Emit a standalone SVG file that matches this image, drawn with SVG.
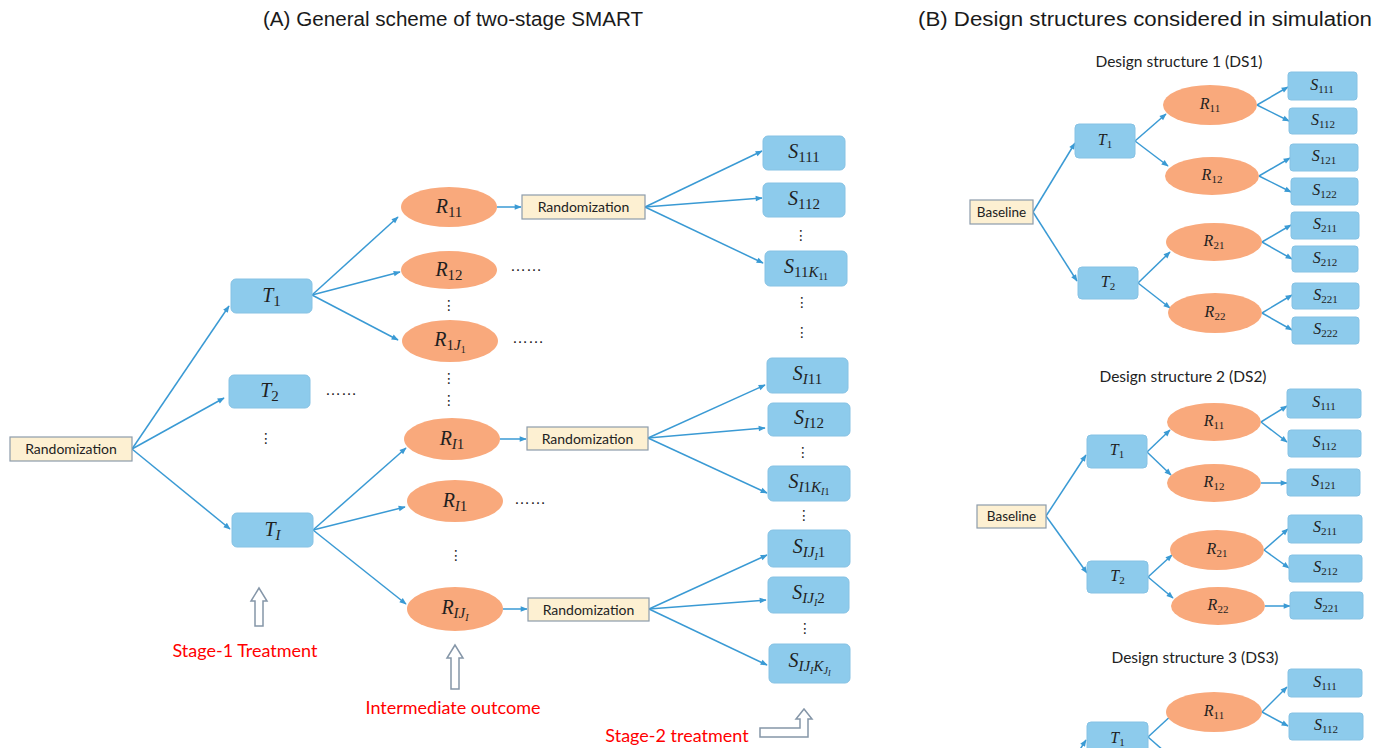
<svg xmlns="http://www.w3.org/2000/svg" width="1381" height="748" viewBox="0 0 1381 748">
<style>
.title{font-family:"Liberation Sans",Arial,sans-serif;font-size:20px;fill:#1a1a1a}
.cal{font-family:Lato,"Open Sans",sans-serif;fill:#222}
.red{font-family:Lato,"Open Sans",sans-serif;font-size:18px;fill:#ff0000}
.box{fill:#8dcbec;stroke:#86c2e4;stroke-width:1}
.ell{fill:#f9a97c}
.rnd{fill:#fdf0d2;stroke:#8d9cab;stroke-width:1.2}
.m{font-family:"Liberation Serif","DejaVu Serif",serif;font-style:italic;font-size:20px;fill:#1f1f1f;text-anchor:middle}
.ms{font-family:"Liberation Serif","DejaVu Serif",serif;font-style:italic;font-size:16px;fill:#1f1f1f;text-anchor:middle}
.n{font-style:normal}
.dots{font-family:"DejaVu Sans",sans-serif;font-size:14px;fill:#222;text-anchor:middle}
.ell3{font-family:"Liberation Sans",sans-serif;font-size:16px;fill:#222;text-anchor:middle}
.con line{stroke:#3a9ad4;stroke-width:1.5;fill:none;marker-end:url(#ah)}
.hollow{fill:#fff;stroke:#8596a8;stroke-width:1.5}
</style>
<defs>
<marker id="ah" viewBox="0 0 10 10" refX="9" refY="5" markerWidth="8" markerHeight="7" orient="auto" markerUnits="userSpaceOnUse"><path d="M0,1 L10,5 L0,9 z" fill="#3a9ad4"/></marker>
</defs>
<rect width="1381" height="748" fill="#fff"/>

<text class="title" x="263" y="26" textLength="380" lengthAdjust="spacingAndGlyphs">(A) General scheme of two-stage SMART</text>
<text class="title" x="918" y="26" textLength="454" lengthAdjust="spacingAndGlyphs">(B) Design structures considered in simulation</text>

<g class="con" id="connectors">
<line x1="132" y1="449" x2="229" y2="306"/>
<line x1="132" y1="449" x2="224" y2="398"/>
<line x1="132" y1="449" x2="230" y2="529"/>
<line x1="312" y1="295" x2="398" y2="217"/>
<line x1="312" y1="295" x2="400" y2="272"/>
<line x1="312" y1="295" x2="398" y2="340"/>
<line x1="497" y1="207" x2="521" y2="207"/>
<line x1="645" y1="207" x2="762" y2="151"/>
<line x1="645" y1="207" x2="762" y2="198"/>
<line x1="645" y1="207" x2="763" y2="263"/>
<line x1="313" y1="530" x2="406" y2="448"/>
<line x1="313" y1="530" x2="405" y2="507"/>
<line x1="313" y1="530" x2="406" y2="604"/>
<line x1="500" y1="439" x2="526" y2="439"/>
<line x1="648" y1="438" x2="765" y2="385"/>
<line x1="648" y1="438" x2="765" y2="428"/>
<line x1="648" y1="438" x2="767" y2="493"/>
<line x1="503" y1="609" x2="527" y2="609"/>
<line x1="649" y1="609" x2="767" y2="555"/>
<line x1="649" y1="609" x2="766" y2="600"/>
<line x1="649" y1="609" x2="767" y2="665"/>
<!-- DS1 -->
<line x1="1033" y1="212" x2="1075" y2="143"/>
<line x1="1033" y1="212" x2="1077" y2="281"/>
<line x1="1135" y1="141" x2="1166" y2="114"/>
<line x1="1135" y1="141" x2="1168" y2="166"/>
<line x1="1138" y1="283" x2="1170" y2="252"/>
<line x1="1138" y1="283" x2="1170" y2="308"/>
<line x1="1257" y1="105" x2="1288" y2="87"/>
<line x1="1257" y1="105" x2="1289" y2="121"/>
<line x1="1259" y1="176" x2="1290" y2="158"/>
<line x1="1259" y1="176" x2="1291" y2="192"/>
<line x1="1262" y1="242" x2="1291" y2="225"/>
<line x1="1262" y1="242" x2="1292" y2="259"/>
<line x1="1262" y1="313" x2="1292" y2="295"/>
<line x1="1262" y1="313" x2="1292" y2="330"/>
<!-- DS2 -->
<line x1="1046" y1="516" x2="1086" y2="455"/>
<line x1="1046" y1="516" x2="1087" y2="573"/>
<line x1="1147" y1="452" x2="1170" y2="430"/>
<line x1="1147" y1="452" x2="1171" y2="475"/>
<line x1="1148" y1="577" x2="1172" y2="555"/>
<line x1="1148" y1="577" x2="1173" y2="598"/>
<line x1="1261" y1="422" x2="1287" y2="406"/>
<line x1="1261" y1="422" x2="1287" y2="442"/>
<line x1="1261" y1="483" x2="1287" y2="483"/>
<line x1="1264" y1="550" x2="1288" y2="529"/>
<line x1="1264" y1="550" x2="1289" y2="568"/>
<line x1="1265" y1="606" x2="1290" y2="606"/>
<!-- DS3 -->
<line x1="1070" y1="765" x2="1086" y2="740"/>
<line x1="1148" y1="737" x2="1174" y2="713"/>
<line x1="1148" y1="737" x2="1172" y2="758"/>
<line x1="1262" y1="712" x2="1287" y2="687"/>
<line x1="1262" y1="712" x2="1288" y2="726"/>
</g>

<!-- Panel A nodes -->
<g id="rand0"><rect class="rnd" x="10" y="437" width="122" height="24"/><text class="cal" x="71" y="454" font-size="14" text-anchor="middle">Randomization</text></g>
<g id="T1"><rect class="box" x="231" y="279" width="81" height="34" rx="5"/><text class="m" x="271.5" y="302">T<tspan class="n" dy="4" font-size="15">1</tspan></text></g>
<g id="T2"><rect class="box" x="229" y="375" width="81" height="33" rx="5"/><text class="m" x="269.5" y="397">T<tspan class="n" dy="4" font-size="15">2</tspan></text></g>
<g id="TI"><rect class="box" x="232" y="513" width="81" height="34" rx="5"/><text class="m" x="272.5" y="536">T<tspan dy="4" font-size="15">I</tspan></text></g>

<g id="R11"><ellipse class="ell" cx="449" cy="207" rx="48" ry="20"/><text class="m" x="449" y="213">R<tspan class="n" dy="4" font-size="15">11</tspan></text></g>
<g id="R12"><ellipse class="ell" cx="449" cy="270" rx="48" ry="19"/><text class="m" x="449" y="276">R<tspan class="n" dy="4" font-size="15">12</tspan></text></g>
<g id="R1J1"><ellipse class="ell" cx="450" cy="341" rx="48" ry="21"/><text class="m" x="450" y="346">R<tspan class="n" dy="4" font-size="15">1</tspan><tspan font-size="15">J</tspan><tspan class="n" dy="3" font-size="10">1</tspan></text></g>
<g id="RI1a"><ellipse class="ell" cx="452" cy="439" rx="48" ry="21"/><text class="m" x="452" y="445">R<tspan dy="4" font-size="15">I</tspan><tspan class="n" font-size="15">1</tspan></text></g>
<g id="RI1b"><ellipse class="ell" cx="455" cy="501" rx="48" ry="21"/><text class="m" x="455" y="507">R<tspan dy="4" font-size="15">I</tspan><tspan class="n" font-size="15">1</tspan></text></g>
<g id="RIJI"><ellipse class="ell" cx="455" cy="609" rx="48" ry="22"/><text class="m" x="455" y="614">R<tspan dy="4" font-size="15">IJ</tspan><tspan dy="3" font-size="10">I</tspan></text></g>

<g id="rand1"><rect class="rnd" x="522" y="195" width="123" height="24"/><text class="cal" x="583.5" y="212" font-size="14" text-anchor="middle">Randomization</text></g>
<g id="rand2"><rect class="rnd" x="527" y="427" width="121" height="23"/><text class="cal" x="587.5" y="443.5" font-size="14" text-anchor="middle">Randomization</text></g>
<g id="rand3"><rect class="rnd" x="528" y="598" width="121" height="23"/><text class="cal" x="588.5" y="614.5" font-size="14" text-anchor="middle">Randomization</text></g>

<g id="S111"><rect class="box" x="763" y="136" width="82" height="34" rx="5"/><text class="m" x="804" y="158">S<tspan class="n" dy="4" font-size="15">111</tspan></text></g>
<g id="S112"><rect class="box" x="763" y="183" width="82" height="34" rx="5"/><text class="m" x="804" y="205">S<tspan class="n" dy="4" font-size="15">112</tspan></text></g>
<g id="S11K11"><rect class="box" x="765" y="251" width="82" height="35" rx="5"/><text class="m" x="806" y="273">S<tspan class="n" dy="4" font-size="15">11</tspan><tspan font-size="15">K</tspan><tspan class="n" dy="3" font-size="10">11</tspan></text></g>
<g id="SI11"><rect class="box" x="767" y="358" width="81" height="35" rx="5"/><text class="m" x="807.5" y="380">S<tspan dy="4" font-size="15">I</tspan><tspan class="n" font-size="15">11</tspan></text></g>
<g id="SI12"><rect class="box" x="768" y="403" width="82" height="33" rx="5"/><text class="m" x="809" y="424">S<tspan dy="4" font-size="15">I</tspan><tspan class="n" font-size="15">12</tspan></text></g>
<g id="SI1KI1"><rect class="box" x="768" y="466" width="82" height="35" rx="5"/><text class="m" x="809" y="488">S<tspan dy="4" font-size="15">I</tspan><tspan class="n" font-size="15">1</tspan><tspan font-size="15">K</tspan><tspan dy="3" font-size="10">I</tspan><tspan class="n" font-size="10">1</tspan></text></g>
<g id="SIJI1"><rect class="box" x="768" y="530" width="82" height="37" rx="5"/><text class="m" x="809" y="553">S<tspan dy="4" font-size="15">IJ</tspan><tspan dy="3" font-size="10">I</tspan><tspan class="n" dy="-3" font-size="15">1</tspan></text></g>
<g id="SIJI2"><rect class="box" x="768" y="577" width="81" height="36" rx="5"/><text class="m" x="808.5" y="599">S<tspan dy="4" font-size="15">IJ</tspan><tspan dy="3" font-size="10">I</tspan><tspan class="n" dy="-3" font-size="15">2</tspan></text></g>
<g id="SIJIKJI"><rect class="box" x="769" y="644" width="81" height="39" rx="5"/><text class="m" x="809.5" y="667">S<tspan dy="4" font-size="15">IJ</tspan><tspan dy="3" font-size="10">I</tspan><tspan dy="-3" font-size="15">K</tspan><tspan dy="3" font-size="10">J</tspan><tspan dy="2" font-size="8">I</tspan></text></g>

<g id="dotsA">
<text class="dots" x="266" y="443">⋮</text>
<text class="dots" x="449" y="310">⋮</text>
<text class="dots" x="449" y="383">⋮</text>
<text class="dots" x="449" y="405">⋮</text>
<text class="dots" x="456" y="560">⋮</text>
<text class="dots" x="801" y="240">⋮</text>
<text class="dots" x="802" y="307">⋮</text>
<text class="dots" x="802" y="337">⋮</text>
<text class="dots" x="803" y="457">⋮</text>
<text class="dots" x="804" y="520">⋮</text>
<text class="dots" x="805" y="633">⋮</text>
<text class="ell3" x="341" y="395">……</text>
<text class="ell3" x="526" y="271">……</text>
<text class="ell3" x="528" y="343">……</text>
<text class="ell3" x="530" y="504">……</text>
</g>

<g id="labels">
<polygon class="hollow" points="259,588 251,601 255,601 255,626 263,626 263,601 267,601"/>
<text class="red" x="245" y="657" text-anchor="middle">Stage-1 Treatment</text>
<polygon class="hollow" points="455,645 447,658 451,658 451,689 459,689 459,658 463,658"/>
<text class="red" x="453" y="714" text-anchor="middle">Intermediate outcome</text>
<polygon class="hollow" points="760,728 800,728 800,719 796,719 804,709 812,719 808,719 808,737 760,737"/>
<text class="red" x="677" y="742" text-anchor="middle">Stage-2 treatment</text>
</g>

<!-- Panel B: DS1 -->
<g id="DS1">
<text class="cal" x="1179" y="67" font-size="15.5" text-anchor="middle">Design structure 1 (DS1)</text>
<g id="ds1-base"><rect class="rnd" x="970" y="200" width="63" height="24"/><text class="cal" x="1001.5" y="216.5" font-size="13.5" text-anchor="middle">Baseline</text></g>
<g id="ds1-T1"><rect class="box" x="1075" y="124" width="60" height="34" rx="4"/><text class="ms" x="1105" y="145">T<tspan class="n" dy="3" font-size="11">1</tspan></text></g>
<g id="ds1-T2"><rect class="box" x="1078" y="267" width="60" height="32" rx="4"/><text class="ms" x="1108" y="287">T<tspan class="n" dy="3" font-size="11">2</tspan></text></g>
<g id="ds1-R11"><ellipse class="ell" cx="1210" cy="105" rx="47" ry="20"/><text class="ms" x="1210" y="109">R<tspan class="n" dy="3" font-size="11">11</tspan></text></g>
<g id="ds1-R12"><ellipse class="ell" cx="1212" cy="176" rx="47" ry="19"/><text class="ms" x="1212" y="180">R<tspan class="n" dy="3" font-size="11">12</tspan></text></g>
<g id="ds1-R21"><ellipse class="ell" cx="1214" cy="242" rx="48" ry="19"/><text class="ms" x="1214" y="246">R<tspan class="n" dy="3" font-size="11">21</tspan></text></g>
<g id="ds1-R22"><ellipse class="ell" cx="1215" cy="313" rx="47" ry="20"/><text class="ms" x="1215" y="317">R<tspan class="n" dy="3" font-size="11">22</tspan></text></g>
<g id="ds1-S111"><rect class="box" x="1288" y="72" width="69" height="28" rx="3"/><text class="ms" x="1322" y="90">S<tspan class="n" dy="3" font-size="11">111</tspan></text></g>
<g id="ds1-S112"><rect class="box" x="1289" y="108" width="68" height="26" rx="3"/><text class="ms" x="1323" y="125">S<tspan class="n" dy="3" font-size="11">112</tspan></text></g>
<g id="ds1-S121"><rect class="box" x="1290" y="144" width="68" height="27" rx="3"/><text class="ms" x="1324" y="161">S<tspan class="n" dy="3" font-size="11">121</tspan></text></g>
<g id="ds1-S122"><rect class="box" x="1291" y="178" width="67" height="27" rx="3"/><text class="ms" x="1324.5" y="195">S<tspan class="n" dy="3" font-size="11">122</tspan></text></g>
<g id="ds1-S211"><rect class="box" x="1291" y="212" width="68" height="27" rx="3"/><text class="ms" x="1325" y="229">S<tspan class="n" dy="3" font-size="11">211</tspan></text></g>
<g id="ds1-S212"><rect class="box" x="1292" y="246" width="66" height="26" rx="3"/><text class="ms" x="1325" y="263">S<tspan class="n" dy="3" font-size="11">212</tspan></text></g>
<g id="ds1-S221"><rect class="box" x="1292" y="283" width="67" height="26" rx="3"/><text class="ms" x="1325.5" y="300">S<tspan class="n" dy="3" font-size="11">221</tspan></text></g>
<g id="ds1-S222"><rect class="box" x="1292" y="317" width="67" height="27" rx="3"/><text class="ms" x="1325.5" y="334">S<tspan class="n" dy="3" font-size="11">222</tspan></text></g>
</g>

<!-- DS2 -->
<g id="DS2">
<text class="cal" x="1183" y="382" font-size="15.5" text-anchor="middle">Design structure 2 (DS2)</text>
<g id="ds2-base"><rect class="rnd" x="977" y="505" width="69" height="23"/><text class="cal" x="1011.5" y="521" font-size="13.5" text-anchor="middle">Baseline</text></g>
<g id="ds2-T1"><rect class="box" x="1087" y="435" width="60" height="33" rx="4"/><text class="ms" x="1117" y="455">T<tspan class="n" dy="3" font-size="11">1</tspan></text></g>
<g id="ds2-T2"><rect class="box" x="1087" y="561" width="61" height="32" rx="4"/><text class="ms" x="1117.5" y="581">T<tspan class="n" dy="3" font-size="11">2</tspan></text></g>
<g id="ds2-R11"><ellipse class="ell" cx="1214" cy="422" rx="47" ry="19"/><text class="ms" x="1214" y="426">R<tspan class="n" dy="3" font-size="11">11</tspan></text></g>
<g id="ds2-R12"><ellipse class="ell" cx="1214" cy="483" rx="47" ry="19"/><text class="ms" x="1214" y="487">R<tspan class="n" dy="3" font-size="11">12</tspan></text></g>
<g id="ds2-R21"><ellipse class="ell" cx="1217" cy="550" rx="47" ry="20"/><text class="ms" x="1217" y="554">R<tspan class="n" dy="3" font-size="11">21</tspan></text></g>
<g id="ds2-R22"><ellipse class="ell" cx="1218" cy="606" rx="47" ry="19"/><text class="ms" x="1218" y="610">R<tspan class="n" dy="3" font-size="11">22</tspan></text></g>
<g id="ds2-S111"><rect class="box" x="1287" y="389" width="74" height="29" rx="3"/><text class="ms" x="1324" y="407">S<tspan class="n" dy="3" font-size="11">111</tspan></text></g>
<g id="ds2-S112"><rect class="box" x="1288" y="430" width="73" height="27" rx="3"/><text class="ms" x="1324.5" y="447">S<tspan class="n" dy="3" font-size="11">112</tspan></text></g>
<g id="ds2-S121"><rect class="box" x="1287" y="469" width="73" height="27" rx="3"/><text class="ms" x="1323.5" y="486">S<tspan class="n" dy="3" font-size="11">121</tspan></text></g>
<g id="ds2-S211"><rect class="box" x="1288" y="515" width="74" height="28" rx="3"/><text class="ms" x="1325" y="532">S<tspan class="n" dy="3" font-size="11">211</tspan></text></g>
<g id="ds2-S212"><rect class="box" x="1289" y="555" width="73" height="27" rx="3"/><text class="ms" x="1325.5" y="572">S<tspan class="n" dy="3" font-size="11">212</tspan></text></g>
<g id="ds2-S221"><rect class="box" x="1290" y="592" width="73" height="27" rx="3"/><text class="ms" x="1326.5" y="609">S<tspan class="n" dy="3" font-size="11">221</tspan></text></g>
</g>

<!-- DS3 -->
<g id="DS3">
<text class="cal" x="1195" y="663" font-size="15.5" text-anchor="middle">Design structure 3 (DS3)</text>
<g id="ds3-T1"><rect class="box" x="1087" y="722" width="61" height="34" rx="4"/><text class="ms" x="1117.5" y="743">T<tspan class="n" dy="3" font-size="11">1</tspan></text></g>
<g id="ds3-R11"><ellipse class="ell" cx="1214" cy="712" rx="48" ry="20"/><text class="ms" x="1214" y="716">R<tspan class="n" dy="3" font-size="11">11</tspan></text></g>
<g id="ds3-S111"><rect class="box" x="1288" y="669" width="74" height="28" rx="3"/><text class="ms" x="1325" y="687">S<tspan class="n" dy="3" font-size="11">111</tspan></text></g>
<g id="ds3-S112"><rect class="box" x="1289" y="713" width="74" height="27" rx="3"/><text class="ms" x="1326" y="730">S<tspan class="n" dy="3" font-size="11">112</tspan></text></g>
</g>
</svg>
